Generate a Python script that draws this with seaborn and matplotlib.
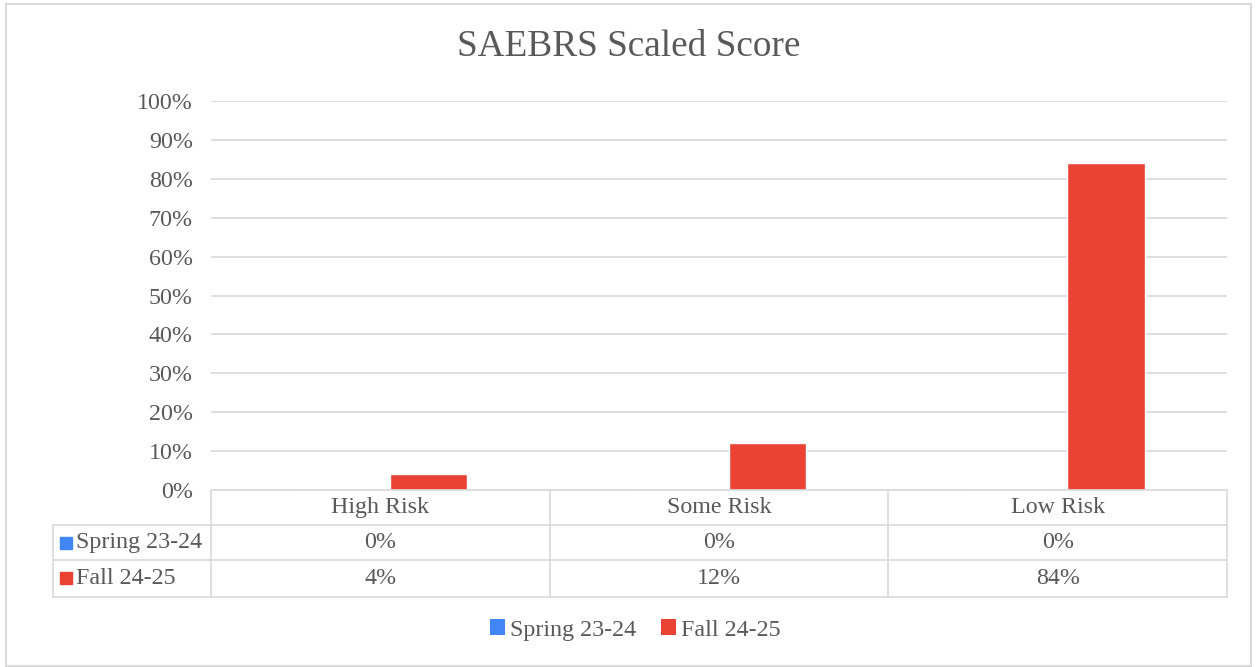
import matplotlib
matplotlib.use("Agg")
import matplotlib.pyplot as plt
import matplotlib.transforms as mtransforms
from matplotlib.patches import Patch, Rectangle
import seaborn as sns
import pandas as pd

categories = ["High Risk", "Some Risk", "Low Risk"]
series_names = ["Spring 23-24", "Fall 24-25"]
spring_values = [0.0, 0.0, 0.0]
fall_values = [0.04, 0.12, 0.84]
spring_labels = ["0%", "0%", "0%"]
fall_labels = ["4%", "12%", "84%"]
ytick_values = [i / 10 for i in range(11)]
ytick_labels = [f"{i*10}%" for i in range(11)]
colors = ["#4285F4", "#EA4335"]
title = "SAEBRS Scaled Score"

sns.set_theme(style="white")
plt.rcParams["font.family"] = ["Liberation Serif", "DejaVu Serif"]
text_color = "#595959"
grid_color = "#d9d9d9"
fs = 17.3

df = pd.DataFrame({
    "category": categories * 2,
    "series": [series_names[0]] * 3 + [series_names[1]] * 3,
    "value": spring_values + fall_values,
})

fig = plt.figure(figsize=(12.57, 6.67), dpi=100)
ax = fig.add_axes([211 / 1257, 1 - 490 / 667, (1227 - 211) / 1257, (490 - 101) / 667])

sns.barplot(data=df, x="category", y="value", hue="series", order=categories,
            hue_order=series_names, palette=colors, width=0.57, gap=0.2,
            legend=False, ax=ax, saturation=1)

ax.set_ylim(0, 1)
ax.set_xlim(-0.5, len(categories) - 0.5)
ax.set_yticks(ytick_values)
ax.set_yticklabels(ytick_labels)
ax.tick_params(axis="y", length=0, pad=13, labelsize=fs, labelcolor=text_color)
ax.set_xticks([])
ax.set_xlabel("")
ax.set_ylabel("")
for s in ax.spines.values():
    s.set_visible(False)
ax.yaxis.grid(True, color=grid_color, linewidth=1.2)
ax.set_axisbelow(True)

# data table below axes
trans = mtransforms.blended_transform_factory(ax.transData, ax.transAxes)
lw = 1.2
row_h = 35 / 389
y_hdr = -row_h
y_r1 = -2 * row_h
y_r2 = -3.05 * row_h
left_ax = (53 - 211) / 1016
line_kw = dict(color=grid_color, linewidth=lw, clip_on=False)
for b in [-0.5 + i for i in range(len(categories) + 1)]:
    ax.plot([b, b], [0, y_r2], transform=trans, **line_kw)
ax.plot([-0.5, 2.5], [0, 0], transform=trans, **line_kw)
for yy in [y_hdr, y_r1, y_r2]:
    ax.plot([left_ax, 1], [yy, yy], transform=ax.transAxes, **line_kw)
ax.plot([left_ax, left_ax], [y_hdr, y_r2], transform=ax.transAxes, **line_kw)

for i, cat in enumerate(categories):
    ax.text(i, y_hdr / 2, cat, transform=trans, ha="center", va="center",
            fontsize=fs, color=text_color)
    ax.text(i, (y_hdr + y_r1) / 2, spring_labels[i], transform=trans, ha="center",
            va="center", fontsize=fs, color=text_color)
    ax.text(i, (y_r1 + y_r2) / 2, fall_labels[i], transform=trans, ha="center",
            va="center", fontsize=fs, color=text_color)

for name, col, (ya, yb) in zip(series_names, colors, [(y_hdr, y_r1), (y_r1, y_r2)]):
    yc = (ya + yb) / 2
    ax.plot([(66 - 211) / 1016], [yc], marker="s", markersize=8.5, color=col,
            transform=ax.transAxes, clip_on=False, linestyle="none")
    ax.text((76 - 211) / 1016, yc, name, transform=ax.transAxes, ha="left",
            va="center", fontsize=fs, color=text_color)

fig.text(0.5, 1 - 47 / 667, title, ha="center", va="center", fontsize=26.8,
         color=text_color)

handles = [Patch(facecolor=c, edgecolor="none", label=n) for n, c in zip(series_names, colors)]
fig.legend(handles=handles, loc="center", bbox_to_anchor=(0.5055, 1 - 630 / 667),
           ncol=2, frameon=False, fontsize=fs, handlelength=0.62, handleheight=0.62,
           handletextpad=0.2, columnspacing=1.05, labelcolor=text_color)

fig.patches.append(Rectangle((6 / 1257, 1 / 667), 1245 / 1257, 662 / 667,
                             transform=fig.transFigure, fill=False,
                             edgecolor=grid_color, linewidth=1.5))

fig.savefig("out.png", dpi=100, facecolor="white")
